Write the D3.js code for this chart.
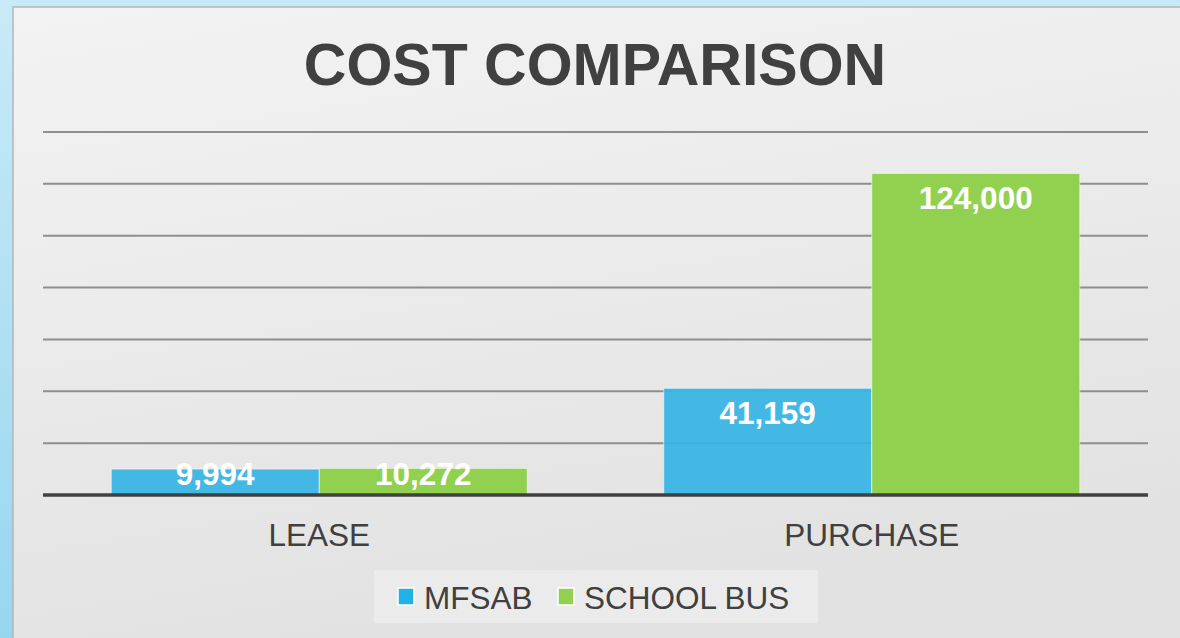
<!DOCTYPE html>
<html>
<head>
<meta charset="utf-8">
<script src="https://cdn.jsdelivr.net/npm/d3@7"></script>
<style>
  html, body { margin: 0; padding: 0; }
  body { width: 1180px; height: 638px; overflow: hidden; }
  text { font-family: "Liberation Sans", Arial, sans-serif; }
</style>
</head>
<body>
<div id="chart"></div>
<script>
var categories = ["LEASE", "PURCHASE"];
var seriesNames = ["MFSAB", "SCHOOL BUS"];
var mfsabValues = [9994, 41159];
var schoolBusValues = [10272, 124000];
var colorRange = ["#3bb5e4", "#92d050"];
var legendColors = ["#22b1e6", "#92d050"];

var data = categories.map(function (c, i) {
  return { category: c, "MFSAB": mfsabValues[i], "SCHOOL BUS": schoolBusValues[i] };
});

var W = 1180, H = 638;
var svg = d3.select("#chart").append("svg").attr("width", W).attr("height", H);

var defs = svg.append("defs");
var outer = defs.append("linearGradient").attr("id", "outerGrad")
  .attr("x1", 0).attr("y1", 0).attr("x2", 0).attr("y2", 1);
outer.append("stop").attr("offset", "0%").attr("stop-color", "#c8eaf7");
outer.append("stop").attr("offset", "100%").attr("stop-color", "#97d6f0");
var panel = defs.append("linearGradient").attr("id", "panelGrad")
  .attr("x1", 0).attr("y1", 0).attr("x2", 0.3).attr("y2", 1);
panel.append("stop").attr("offset", "0%").attr("stop-color", "#f3f3f3");
panel.append("stop").attr("offset", "100%").attr("stop-color", "#e2e2e2");

svg.append("rect").attr("width", W).attr("height", H).attr("fill", "url(#outerGrad)");
svg.append("rect").attr("x", 13).attr("y", 7).attr("width", W).attr("height", H)
  .attr("fill", "url(#panelGrad)").attr("stroke", "#b5b5b5").attr("stroke-width", 1.5);

// title
svg.append("text")
  .attr("x", 595).attr("y", 85)
  .attr("text-anchor", "middle")
  .attr("font-size", 59).attr("font-weight", "bold")
  .attr("fill", "#404040")
  .text("COST COMPARISON");

var plotLeft = 43, plotRight = 1148, baseY = 495, topY = 132;

var x0 = d3.scaleBand().domain(categories).range([plotLeft, plotRight])
  .paddingInner(0).paddingOuter(0);
var x1 = d3.scaleBand().domain(seriesNames).range([0, x0.bandwidth()])
  .paddingInner(0).paddingOuter(0.328);
var y = d3.scaleLinear().domain([0, 140000]).range([baseY, topY]);
var z = d3.scaleOrdinal().domain(seriesNames).range(colorRange);

// gridlines
var g = svg.append("g");
g.append("g")
  .selectAll("line")
  .data(y.ticks(7).filter(function (t) { return t > 0; }))
  .enter().append("line")
  .attr("x1", plotLeft).attr("x2", plotRight)
  .attr("y1", function (d) { return y(d); })
  .attr("y2", function (d) { return y(d); })
  .attr("stroke", "#8e8e8e").attr("stroke-width", 2);

// bars
var groups = g.append("g").selectAll("g")
  .data(data).enter().append("g")
  .attr("transform", function (d) { return "translate(" + x0(d.category) + ",0)"; });

var items = groups.selectAll("g")
  .data(function (d) {
    return seriesNames.map(function (key) { return { key: key, value: d[key] }; });
  })
  .enter().append("g");

items.append("rect")
  .attr("x", function (d) { return x1(d.key); })
  .attr("y", function (d) { return y(d.value); })
  .attr("width", x1.bandwidth())
  .attr("height", function (d) { return baseY - y(d.value); })
  .attr("fill", function (d) { return z(d.key); })
  .attr("fill-opacity", function (d) { return d.key === "MFSAB" ? 0.95 : 1; })
  .attr("stroke", "rgba(255,255,255,0.55)").attr("stroke-width", 1);

items.append("text")
  .attr("x", function (d) { return x1(d.key) + x1.bandwidth() / 2; })
  .attr("y", function (d) { return Math.min(y(d.value) + 35.5, baseY - 10); })
  .attr("text-anchor", "middle")
  .attr("font-size", 31.5).attr("font-weight", "bold")
  .attr("fill", "#ffffff")
  .text(function (d) { return d3.format(",")(d.value); });

// baseline
g.append("line")
  .attr("x1", plotLeft).attr("x2", plotRight)
  .attr("y1", baseY).attr("y2", baseY)
  .attr("stroke", "#404040").attr("stroke-width", 3.5);

// category labels
g.append("g").selectAll("text")
  .data(categories).enter().append("text")
  .attr("x", function (d) { return x0(d) + x0.bandwidth() / 2; })
  .attr("y", 546)
  .attr("text-anchor", "middle")
  .attr("font-size", 31.5)
  .attr("fill", "#404040")
  .text(function (d) { return d; });

// legend
var legend = svg.append("g");
legend.append("rect")
  .attr("x", 374).attr("y", 570).attr("width", 444).attr("height", 53)
  .attr("fill", "#ebebeb");
var legendX = [398, 558];
seriesNames.forEach(function (name, i) {
  legend.append("rect")
    .attr("x", legendX[i]).attr("y", 588).attr("width", 16).attr("height", 17)
    .attr("fill", legendColors[i]).attr("stroke", "#ffffff").attr("stroke-width", 1.5);
  legend.append("text")
    .attr("x", legendX[i] + 26).attr("y", 609)
    .attr("font-size", 31.5)
    .attr("fill", "#404040")
    .text(name);
});
</script>
</body>
</html>
